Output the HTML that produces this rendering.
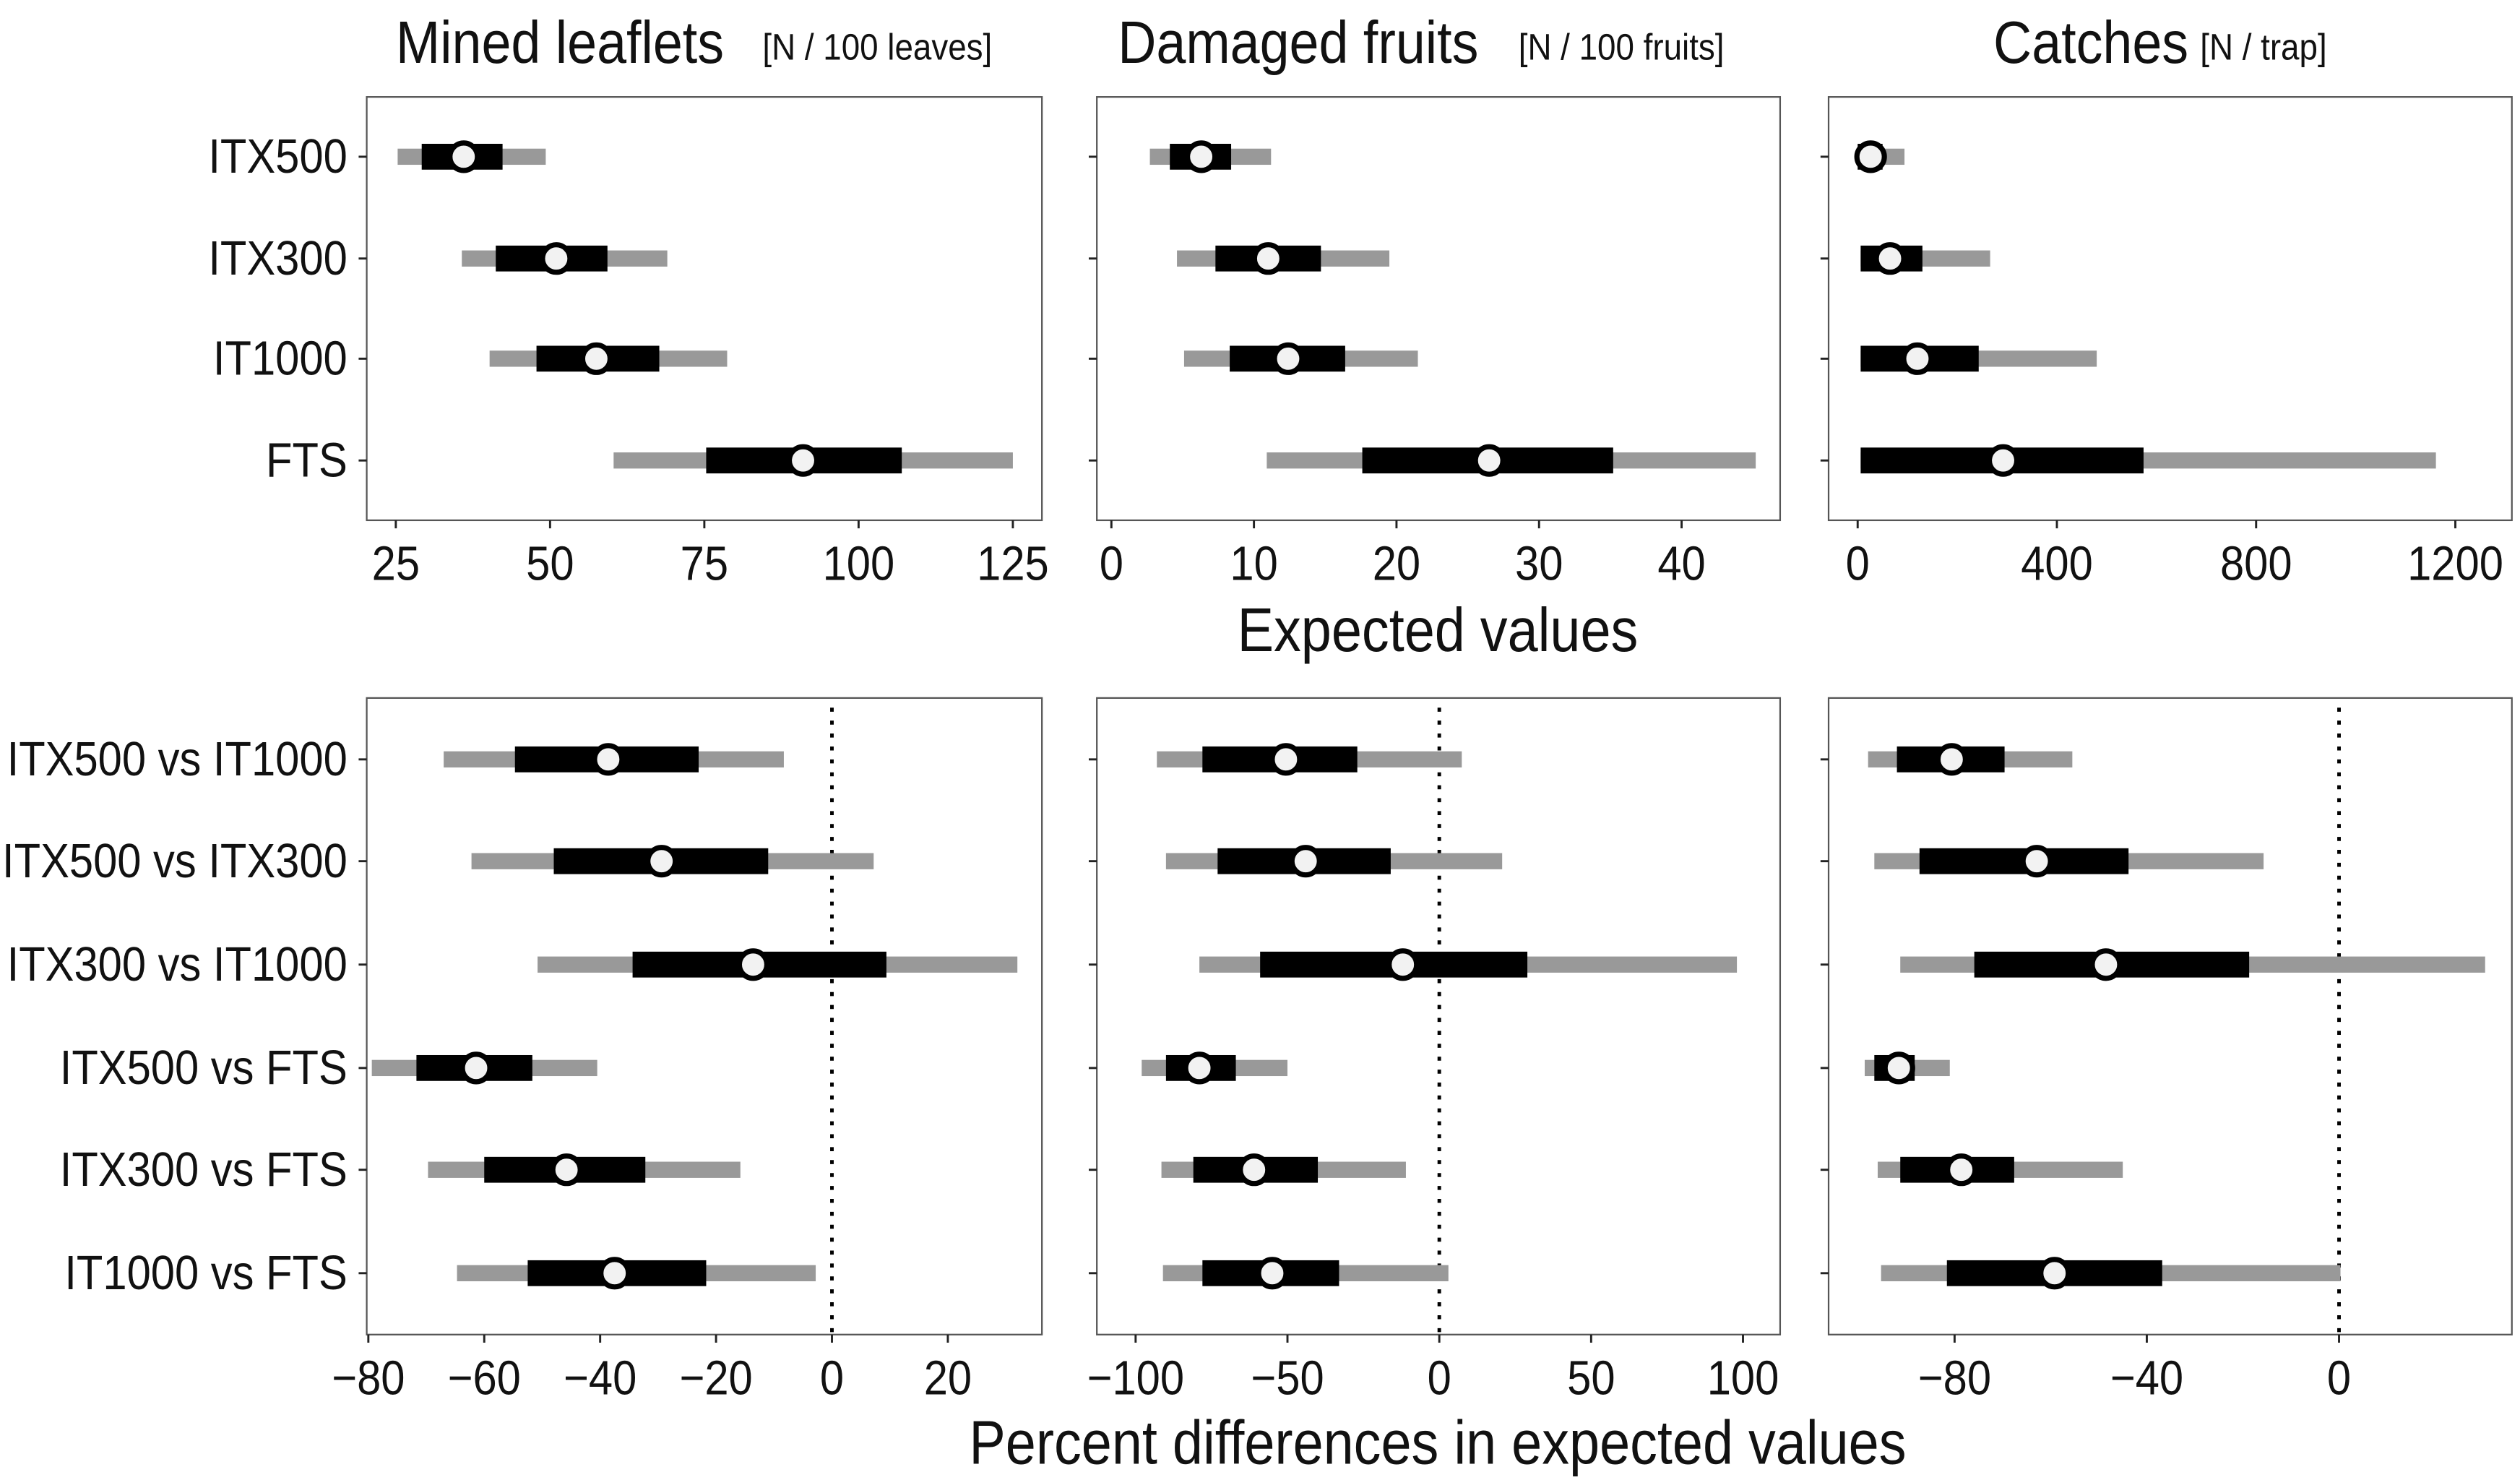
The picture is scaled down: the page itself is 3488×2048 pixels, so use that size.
<!DOCTYPE html>
<html><head><meta charset="utf-8">
<style>
html,body{margin:0;padding:0;background:#fff;}
svg{display:block;}
text{font-family:"Liberation Sans Narrow","Liberation Sans",sans-serif;fill:#111;}
</style></head>
<body>
<svg id="chart" width="3488" height="2048" viewBox="0 0 1560 916" xmlns="http://www.w3.org/2000/svg"></svg>
<script>
// ---------- data ----------
const topCats = ["ITX500","ITX300","IT1000","FTS"];
const botCats = ["ITX500 vs IT1000","ITX500 vs ITX300","ITX300 vs IT1000","ITX500 vs FTS","ITX300 vs FTS","IT1000 vs FTS"];

const leafMed = [36, 51, 57.5, 91];
const leafLo95 = [25.3, 35.7, 40.2, 60.3];
const leafHi95 = [49.3, 69, 78.7, 125];
const leafLo50 = [29.2, 41.2, 47.8, 75.3];
const leafHi50 = [42.3, 59.3, 67.7, 107];

const fruitMed = [6.3, 11, 12.4, 26.5];
const fruitLo95 = [2.7, 4.6, 5.1, 10.9];
const fruitHi95 = [11.2, 19.5, 21.5, 45.2];
const fruitLo50 = [4.1, 7.3, 8.3, 17.6];
const fruitHi50 = [8.4, 14.7, 16.4, 35.2];

const trapMed = [26, 65, 120, 292];
const trapLo95 = [0, 6, 6, 6];
const trapHi95 = [94, 266, 480, 1161];
const trapLo50 = [0, 6, 6, 6];
const trapHi50 = [50, 130, 243, 574];

const dLeafMed = [-38.6, -29.4, -13.6, -61.4, -45.8, -37.5];
const dLeafLo95 = [-67, -62.2, -50.8, -79.4, -69.7, -64.7];
const dLeafHi95 = [-8.3, 7.2, 32, -40.5, -15.8, -2.8];
const dLeafLo50 = [-54.7, -48, -34.4, -71.7, -60, -52.5];
const dLeafHi50 = [-23, -11, 9.4, -51.7, -32.2, -21.7];

const dFruitMed = [-50.5, -44, -12, -79, -61, -55];
const dFruitLo95 = [-93, -90, -79, -98, -91.5, -91];
const dFruitHi95 = [7.4, 20.7, 98, -50, -11, 3];
const dFruitLo50 = [-78, -73, -59, -90, -81, -78];
const dFruitHi50 = [-27, -16, 29, -67, -40, -33];

const dTrapMed = [-80.6, -62.9, -48.5, -91.6, -78.6, -59.2];
const dTrapLo95 = [-98, -96.7, -91.3, -98.7, -96, -95.3];
const dTrapHi95 = [-55.5, -15.7, 30.4, -81, -45, 0.3];
const dTrapLo50 = [-92, -87.3, -75.9, -96.7, -91.3, -81.6];
const dTrapHi50 = [-69.6, -43.8, -18.7, -88.3, -67.6, -36.8];

const ticksLeaf = [25,50,75,100,125];
const ticksFruit = [0,10,20,30,40];
const ticksTrap = [0,400,800,1200];
const ticksDLeaf = [-80,-60,-40,-20,0,20];
const ticksDFruit = [-100,-50,0,50,100];
const ticksDTrap = [-80,-40,0];

// ---------- drawing ----------
const NS = "http://www.w3.org/2000/svg";
const svg = document.getElementById("chart");
const SQ = 0.89;
function mk(tag, attrs, parent){
  const e = document.createElementNS(NS, tag);
  for (const k in attrs) e.setAttribute(k, attrs[k]);
  (parent||svg).appendChild(e);
  return e;
}
function mkText(x,y,size,anchor,str,parent){
  const t = mk("text",{x:0,y:0,"font-size":size,"text-anchor":anchor,transform:"translate("+x+","+y+") scale("+SQ+",1)"},parent);
  t.textContent = str;
  return t;
}
function fmt(v){ return v<0 ? "\u2212"+Math.abs(v) : String(v); }

const panels = [
  {name:"mined-leaflets", x0:227,x1:645,y0:60,y1:322, d0:25,p0:245,d1:125,p1:627, cats:topCats, yPos:[97,160,222,285], med:leafMed,lo95:leafLo95,hi95:leafHi95,lo50:leafLo50,hi50:leafHi50, ticks:ticksLeaf, labels:true, zero:false},
  {name:"damaged-fruits", x0:679,x1:1102,y0:60,y1:322, d0:0,p0:688,d1:40,p1:1041, cats:topCats, yPos:[97,160,222,285], med:fruitMed,lo95:fruitLo95,hi95:fruitHi95,lo50:fruitLo50,hi50:fruitHi50, ticks:ticksFruit, labels:false, zero:false},
  {name:"catches", x0:1132,x1:1555,y0:60,y1:322, d0:0,p0:1150,d1:1200,p1:1520, cats:topCats, yPos:[97,160,222,285], med:trapMed,lo95:trapLo95,hi95:trapHi95,lo50:trapLo50,hi50:trapHi50, ticks:ticksTrap, labels:false, zero:false},
  {name:"diff-mined-leaflets", x0:227,x1:645,y0:432,y1:826, d0:-80,p0:228,d1:0,p1:515, cats:botCats, yPos:[470,533,597,661,724,788], med:dLeafMed,lo95:dLeafLo95,hi95:dLeafHi95,lo50:dLeafLo50,hi50:dLeafHi50, ticks:ticksDLeaf, labels:true, zero:true},
  {name:"diff-damaged-fruits", x0:679,x1:1102,y0:432,y1:826, d0:-100,p0:703,d1:100,p1:1079, cats:botCats, yPos:[470,533,597,661,724,788], med:dFruitMed,lo95:dFruitLo95,hi95:dFruitHi95,lo50:dFruitLo50,hi50:dFruitHi50, ticks:ticksDFruit, labels:false, zero:true},
  {name:"diff-catches", x0:1132,x1:1555,y0:432,y1:826, d0:-80,p0:1210,d1:0,p1:1448, cats:botCats, yPos:[470,533,597,661,724,788], med:dTrapMed,lo95:dTrapLo95,hi95:dTrapHi95,lo50:dTrapLo50,hi50:dTrapHi50, ticks:ticksDTrap, labels:false, zero:true}
];

panels.forEach(P=>{
  const g = mk("g",{});
  
  
  const sx = v => P.p0 + (v-P.d0)*(P.p1-P.p0)/(P.d1-P.d0);
  const border = mk("rect",{x:P.x0,y:P.y0,width:P.x1-P.x0,height:P.y1-P.y0,fill:"none",stroke:"#555","stroke-width":1},g);
  
  
  if (P.zero){
    const z = mk("line",{x1:sx(0),x2:sx(0),y1:P.y0+6,y2:P.y1,stroke:"#000","stroke-width":2.2,"stroke-dasharray":"2.5 5.5"},g);
    
    
  }
  P.cats.forEach((c,i)=>{
    const y = P.yPos[i];
    mk("line",{x1:P.x0-5,x2:P.x0,y1:y,y2:y,stroke:"#222","stroke-width":1.3},g);
    if (P.labels){
      const t = mkText(P.x0-12,y+10,30,"end",c,g);
      
      
    }
  });
  P.ticks.forEach(v=>{
    const x = sx(v);
    mk("line",{x1:x,x2:x,y1:P.y1,y2:P.y1+5,stroke:"#222","stroke-width":1.3},g);
    const t = mkText(x,P.y1+37,30,"middle",fmt(v),g);
    
    
  });
  P.cats.forEach((c,i)=>{
    const y = P.yPos[i];
    const a = sx(P.lo95[i]), b = sx(P.hi95[i]);
    const r1 = mk("rect",{x:a,y:y-5,width:b-a,height:10,fill:"#999"},g);
    
    
    const c1 = sx(P.lo50[i]), d1 = sx(P.hi50[i]);
    const r2 = mk("rect",{x:c1,y:y-8,width:d1-c1,height:16,fill:"#000"},g);
    
    
    const pt = mk("circle",{cx:sx(P.med[i]),cy:y,r:8.5,fill:"#f2f2f2",stroke:"#000","stroke-width":3.2},g);
    
    
  });
});

function txt(x,y,s,str,anchor,name){
  const t = mkText(x,y,s,anchor,str);
  
  
  return t;
}
txt(245,39,37,"Mined leaflets","start","title-mined-leaflets");
txt(472,37,23,"[N / 100 leaves]","start","unit-mined-leaflets");
txt(692,39,37,"Damaged fruits","start","title-damaged-fruits");
txt(940,37,23,"[N / 100 fruits]","start","unit-damaged-fruits");
txt(1234,39,37,"Catches","start","title-catches");
txt(1362,37,23,"[N / trap]","start","unit-catches");
txt(890,403,38,"Expected values","middle","x-axis-title-expected");
txt(890,906,38,"Percent differences in expected values","middle","x-axis-title-percent");
</script>
</body></html>
